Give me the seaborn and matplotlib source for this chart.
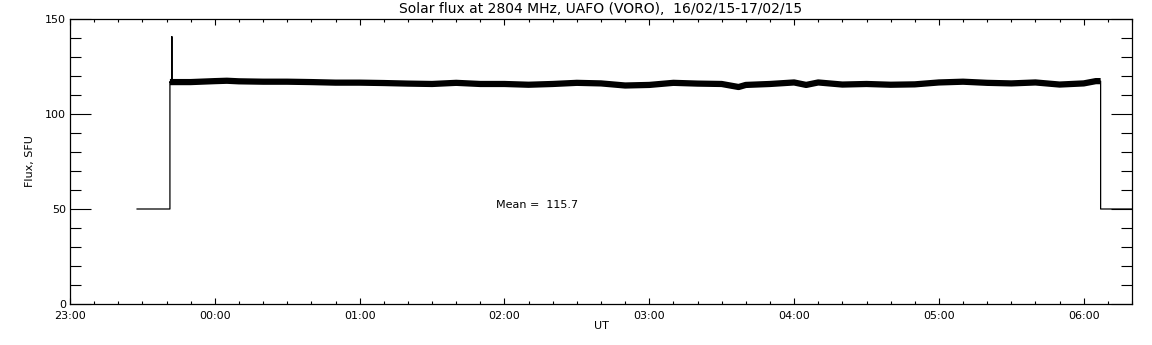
import seaborn as sns
import pandas as pd
import matplotlib.pyplot as plt
from matplotlib.ticker import MultipleLocator

# -------------------------------------------------
# Data (minutes after 23:00 UT, flux in SFU)
# -------------------------------------------------
band_min = [41.4, 50, 60, 65, 70, 80, 90, 100, 110, 120, 130, 140, 150, 160,
            170, 180, 190, 200, 210, 220, 230, 240, 250, 260, 270, 277, 280,
            290, 300, 305, 310, 320, 330, 340, 350, 360, 370, 380, 390, 400,
            410, 420, 425, 427]
band_flux = [116.8, 116.8, 117.3, 117.5, 117.2, 117.0, 117.0, 116.8, 116.5,
             116.5, 116.3, 116.0, 115.8, 116.4, 115.8, 115.8, 115.4, 115.8,
             116.4, 116.1, 115.0, 115.3, 116.4, 116.0, 115.8, 114.2, 115.3,
             115.8, 116.6, 115.3, 116.6, 115.5, 115.8, 115.4, 115.6, 116.6,
             117.0, 116.4, 116.1, 116.6, 115.5, 116.1, 117.3, 117.3]

off_level = 50
start_min, step_min = 27.7, 41.4
spike_min, spike_flux = 42.2, 140.7
end_min, edge_min = 427, 440
mean_flux = 115.7

hour_ticks = [0, 60, 120, 180, 240, 300, 360, 420]
hour_labels = ["23:00", "00:00", "01:00", "02:00", "03:00", "04:00", "05:00", "06:00"]

title = "Solar flux at 2804 MHz, UAFO (VORO),  16/02/15-17/02/15"

# full trace incl. receiver-off level, step edges and the spike
trace_min = ([start_min, step_min, step_min, spike_min, spike_min, spike_min]
             + band_min + [end_min, edge_min])
trace_flux = ([off_level, off_level, band_flux[0], band_flux[0], spike_flux, band_flux[0]]
              + band_flux + [off_level, off_level])
trace_df = pd.DataFrame({"t": trace_min, "flux": trace_flux})
band_df = pd.DataFrame({"t": band_min, "flux": band_flux})

# -------------------------------------------------
# Plot
# -------------------------------------------------
sns.set_style("white")
plt.rcParams["font.family"] = ["DejaVu Sans"]
plt.rcParams["text.color"] = "black"
plt.rcParams["axes.labelcolor"] = "black"

fig = plt.figure(figsize=(11.52, 3.45), dpi=100)
ax = fig.add_axes([70 / 1152, 1 - 304 / 345, 1062 / 1152, 285 / 345])

sns.lineplot(data=trace_df, x="t", y="flux", sort=False, estimator=None,
             color="black", linewidth=0.9, ax=ax)
sns.lineplot(data=band_df, x="t", y="flux", sort=False, estimator=None,
             color="black", linewidth=4.5, solid_capstyle="butt", ax=ax)

ax.set_xlim(0, edge_min)
ax.set_ylim(0, 150)
ax.set_xticks(hour_ticks)
ax.set_xticklabels(hour_labels)
ax.xaxis.set_minor_locator(MultipleLocator(10))
ax.set_yticks([0, 50, 100, 150])
ax.yaxis.set_minor_locator(MultipleLocator(10))

ax.tick_params(axis="both", which="both", direction="in", top=True, right=True,
               bottom=True, left=True, colors="black", width=0.8, labelsize=8)
ax.tick_params(axis="y", which="major", length=15, pad=3)
ax.tick_params(axis="y", which="minor", length=8)
ax.tick_params(axis="x", which="major", length=4.5, pad=5)
ax.tick_params(axis="x", which="minor", length=2)
ax.tick_params(axis="y", which="both", labelright=False)

for sp in ax.spines.values():
    sp.set_visible(True)
    sp.set_color("black")
    sp.set_linewidth(0.9)

ax.set_title(title, fontsize=10, pad=4, color="black")
ax.set_xlabel("UT", fontsize=8, labelpad=0)
ax.set_ylabel("Flux, SFU", fontsize=8, labelpad=7)
ax.text(176.7, 52, f"Mean =  {mean_flux}", fontsize=8, ha="left", va="center",
        color="black")

fig.savefig("out.png", dpi=100, facecolor="white")
